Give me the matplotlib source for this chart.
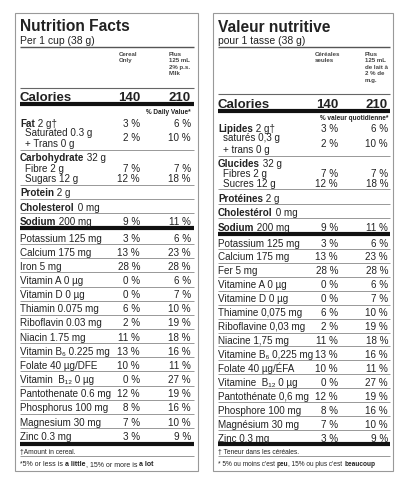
import matplotlib
matplotlib.use("Agg")
import matplotlib.pyplot as plt

# ---- data ----
top_dv_cereal = [3, 2, 7, 12, 9]      # fat, sat+trans, fibre, sugars, sodium
top_dv_milk = [6, 10, 7, 18, 11]
calories = [140, 210]
names_en = ["Potassium 125 mg", "Calcium 175 mg", "Iron 5 mg", "Vitamin A 0 µg", "Vitamin D 0 µg",
            "Thiamin 0.075 mg", "Riboflavin 0.03 mg", "Niacin 1.75 mg", "Vitamin B₆ 0.225 mg",
            "Folate 40 µg/DFE", "Vitamin  B₁₂ 0 µg", "Pantothenate 0.6 mg", "Phosphorus 100 mg",
            "Magnesium 30 mg", "Zinc 0.3 mg"]
names_fr = ["Potassium 125 mg", "Calcium 175 mg", "Fer 5 mg", "Vitamine A 0 µg", "Vitamine D 0 µg",
            "Thiamine 0,075 mg", "Riboflavine 0,03 mg", "Niacine 1,75 mg", "Vitamine B₆ 0,225 mg",
            "Folate 40 µg/ÉFA", "Vitamine  B₁₂ 0 µg", "Pantothénate 0,6 mg", "Phosphore 100 mg",
            "Magnésium 30 mg", "Zinc 0,3 mg"]
dv_cereal = [3, 13, 28, 0, 0, 6, 2, 11, 13, 10, 0, 12, 8, 7, 3]
dv_milk = [6, 23, 28, 6, 7, 10, 19, 18, 16, 11, 27, 19, 16, 10, 9]

C = "#222222"
G = "#888888"
FAM = ["Liberation Sans", "DejaVu Sans"]
fig = plt.figure(figsize=(4.13, 4.85), dpi=100)
ax = fig.add_axes([0, 0, 1, 1])
ax.set_xlim(0, 413); ax.set_ylim(485, 0); ax.axis("off")
fig.canvas.draw()
R = fig.canvas.get_renderer()
FS = 7.1

def T(x, y, s, fs=FS, w="normal", ha="left"):
    return ax.text(x, y + fs * 0.5, s, fontsize=fs, fontweight=w, ha=ha, va="baseline", color=C,
                   family=FAM)

def W(t):
    return t.get_window_extent(R).width * 413 / fig.bbox.width

def BT(x, y, b, n, fs=FS):
    t = T(x, y, b, fs, "bold")
    T(x + W(t), y, n, fs)

def L(x0, x1, y, lw=0.6, c=G):
    ax.plot([x0, x1], [y, y], color=c, lw=lw, solid_capstyle="butt")

def pct(v): return f"{v} %"

def panel(bx0, bx1, tx, lx1, c1, c2, hx1, hx2, P, fr):
    ax.add_patch(plt.Rectangle((bx0, 14), bx1 - bx0, 458, fill=False, ec="#999999", lw=0.8))
    T(tx, P["title"], "Valeur nutritive" if fr else "Nutrition Facts", 11.2, "bold")
    T(tx, P["serv"], "pour 1 tasse (38 g)" if fr else "Per 1 cup (38 g)", 7.5)
    L(tx, lx1, 48, 1.0, "#555555")
    h1 = "Céréales\nseules" if fr else "Cereal\nOnly"
    h2 = "Plus\n125 mL\nde lait à\n2 % de\nm.g." if fr else "Plus\n125 mL\n2% p.s.\nMilk"
    ax.text(hx1, 52, h1, fontsize=4.4, fontweight="bold", va="top", color="#444", linespacing=1.35, family=FAM)
    ax.text(hx2, 52, h2, fontsize=4.4, fontweight="bold", va="top", color="#444", linespacing=1.35, family=FAM)
    L(tx, lx1, P["hl"], 0.8, "#666")
    T(tx, P["cal"], "Calories", 9.5, "bold")
    T(c1, P["cal"], str(calories[0]), 9.5, "bold", "right")
    T(c2, P["cal"], str(calories[1]), 9.5, "bold", "right")
    L(tx, lx1, P["cal"] + 9, 3.0, "#111")
    T(c2, P["dv"], "% valeur quotidienne*" if fr else "% Daily Value*", 4.7, "bold", "right")
    BT(tx, P["fat"], "Lipides" if fr else "Fat", " 2 g†")
    T(c1, P["fat"], pct(top_dv_cereal[0]), ha="right"); T(c2, P["fat"], pct(top_dv_milk[0]), ha="right")
    T(tx + 5, P["sat"], "saturés 0,3 g" if fr else "Saturated 0.3 g")
    T(tx + 5, P["trans"], "+ trans 0 g" if fr else "+ Trans 0 g")
    ym = (P["sat"] + P["trans"]) / 2
    T(c1, ym, pct(top_dv_cereal[1]), ha="right"); T(c2, ym, pct(top_dv_milk[1]), ha="right")
    L(tx, lx1, P["l1"])
    BT(tx, P["carb"], "Glucides" if fr else "Carbohydrate", " 32 g")
    T(tx + 5, P["fib"], "Fibres 2 g" if fr else "Fibre 2 g")
    T(c1, P["fib"], pct(top_dv_cereal[2]), ha="right"); T(c2, P["fib"], pct(top_dv_milk[2]), ha="right")
    T(tx + 5, P["sug"], "Sucres 12 g" if fr else "Sugars 12 g")
    T(c1, P["sug"], pct(top_dv_cereal[3]), ha="right"); T(c2, P["sug"], pct(top_dv_milk[3]), ha="right")
    L(tx, lx1, P["l2"])
    BT(tx, P["prot"], "Protéines" if fr else "Protein", " 2 g")
    L(tx, lx1, P["l3"])
    BT(tx, P["chol"], "Cholestérol" if fr else "Cholesterol", " 0 mg")
    L(tx, lx1, P["l4"])
    BT(tx, P["sod"], "Sodium", " 200 mg")
    T(c1, P["sod"], pct(top_dv_cereal[4]), ha="right"); T(c2, P["sod"], pct(top_dv_milk[4]), ha="right")
    L(tx, lx1, P["sod"] + 8, 3.0, "#111")
    names = names_fr if fr else names_en
    y0, dy = P["pot"], P["dy"]
    for i, (n, a, b) in enumerate(zip(names, dv_cereal, dv_milk)):
        y = y0 + i * dy
        T(tx, y, n); T(c1, y, pct(a), ha="right"); T(c2, y, pct(b), ha="right")
        if i < len(names) - 1:
            L(tx, lx1, y + dy / 2)
    L(tx, lx1, 444.5, 3.0, "#111")
    T(tx, 452, "† Teneur dans les céréales." if fr else "†Amount in cereal.", 4.8)
    L(tx, lx1, 457)
    if fr:
        parts = [("* 5% ou moins c'est ", "normal"), ("peu", "bold"), (", 15% ou plus c'est ", "normal"), ("beaucoup", "bold")]
        fs = 4.7
    else:
        parts = [("*5% or less is ", "normal"), ("a little", "bold"), (", 15% or more is ", "normal"), ("a lot", "bold")]
        fs = 5.0
    x = tx
    for s, w in parts:
        t = T(x, 463.5, s, fs, w)
        x += W(t)

PL = dict(title=25, serv=40, hl=88.5, cal=96, dv=112, fat=123, sat=132, trans=143, l1=151, carb=157,
          fib=168, sug=178, l2=185.5, prot=192.5, l3=199.5, chol=207, l4=214, sod=221, pot=238, dy=14.15)
PR = dict(title=26, serv=40, hl=95, cal=103, dv=118, fat=128, sat=137, trans=149, l1=157, carb=163,
          fib=173, sug=183, l2=189.5, prot=198, l3=205, chol=212, l4=219, sod=227, pot=243, dy=13.93)
panel(15, 198, 20, 194, 140, 191, 119, 169, PL, False)
panel(213, 393, 218, 390, 338, 388, 315, 365, PR, True)

fig.savefig("out.png", dpi=100)
